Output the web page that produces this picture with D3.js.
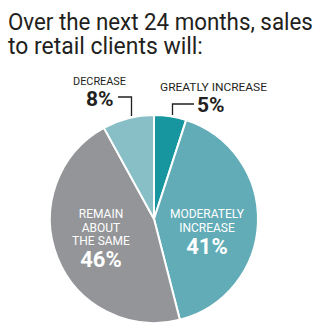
<!DOCTYPE html>
<html><head><meta charset="utf-8">
<script src="https://cdnjs.cloudflare.com/ajax/libs/d3/7.8.5/d3.min.js"></script>
<style>body{margin:0;background:#fff}svg{display:block}</style>
</head><body>
<svg id="c" width="322" height="331"></svg>
<script>
const categories = ["GREATLY INCREASE", "MODERATELY INCREASE", "REMAIN ABOUT THE SAME", "DECREASE"];
const values = [5, 41, 46, 8];
const colors = ["#17969f", "#62acb7", "#939598", "#88bec6"];
const titleLines = ["Over the next 24 months, sales", "to retail clients will:"];
const titleWidths = [305, 195];

const svg = d3.select("#c");
const font = "Roboto, sans-serif";

svg.selectAll("text.title").data(titleLines).join("text")
  .attr("class","title")
  .attr("x", 0).attr("y", 0)
  .attr("font-family", font).attr("font-size", 24).attr("fill", "#231f20")
  .text(d => d)
  .attr("transform", function(d,i) {
    const w = this.getComputedTextLength();
    return `translate(8,${30 + i*24}) scale(${titleWidths[i]/w},1)`;
  });

const cx = 154, cy = 219, r = 104;
const pie = d3.pie().sort(null).value(d => d)(values);
const arc = d3.arc().innerRadius(0).outerRadius(r);
const g = svg.append("g").attr("transform", `translate(${cx},${cy})`);
g.selectAll("path").data(pie).join("path")
  .attr("d", arc).attr("fill", (d,i) => colors[i])
  .attr("stroke", "#fff").attr("stroke-width", 2).attr("stroke-linejoin","round");

// interior labels
const inner = [
  {i:2, lines:["REMAIN","ABOUT","THE SAME"], x:-53},
  {i:1, lines:["MODERATELY","INCREASE"], x:53}
];
inner.forEach(o => {
  const t = g.append("g");
  o.lines.forEach((l,k) => {
    t.append("text").attr("x", o.x).attr("y", -1 + k*13.5)
      .attr("text-anchor","middle").attr("font-family", font)
      .attr("font-size", 12).attr("fill","#fff").text(l);
  });
  t.append("text").attr("x", o.x).attr("y", -1 + (o.lines.length-1)*13.5 + 22)
    .attr("text-anchor","middle").attr("font-family", font).attr("font-weight","bold")
    .attr("font-size", 22).attr("fill","#fff").text(values[o.i] + "%");
});

// outside labels
const ink = "#231f20";
svg.append("text").attr("x", 160).attr("y", 91)
  .attr("font-family", font).attr("font-size", 11.5).attr("fill", ink)
  .attr("textLength", 107).attr("lengthAdjust","spacingAndGlyphs").text(categories[0]);
svg.append("text").attr("x", 197).attr("y", 112)
  .attr("font-family", font).attr("font-weight","bold").attr("font-size", 21).attr("fill", ink).text(values[0] + "%");
svg.append("path").attr("d","M172.5,115V104H194").attr("fill","none").attr("stroke",ink).attr("stroke-width",1.3);

svg.append("text").attr("x", 73).attr("y", 85)
  .attr("font-family", font).attr("font-size", 11.5).attr("fill", ink)
  .attr("textLength", 53).attr("lengthAdjust","spacingAndGlyphs").text(categories[3]);
svg.append("text").attr("x", 86).attr("y", 106)
  .attr("font-family", font).attr("font-weight","bold").attr("font-size", 21).attr("fill", ink).text(values[3] + "%");
svg.append("path").attr("d","M118,97H131.5V116").attr("fill","none").attr("stroke",ink).attr("stroke-width",1.3);
</script>
</body></html>
